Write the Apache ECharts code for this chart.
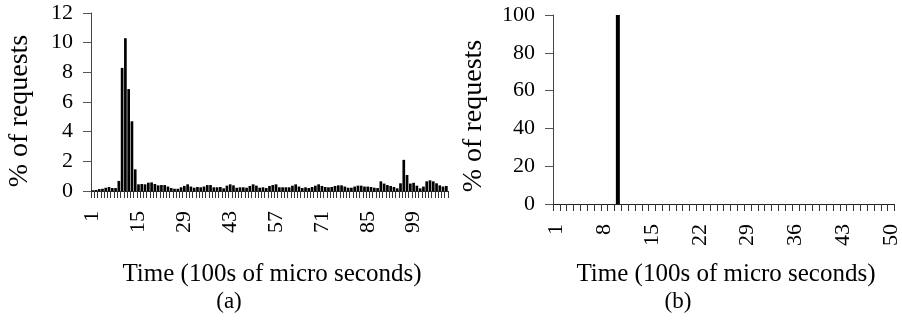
<!DOCTYPE html>
<html><head><meta charset="utf-8">
<script src="https://cdn.jsdelivr.net/npm/echarts@6/dist/echarts.min.js"></script>
<style>html,body{margin:0;padding:0;background:#fff}#c{width:902px;height:326px}</style>
</head><body><div id="c"></div>
<script>
const catsA = Array.from({length: 109}, (_, i) => String(i + 1));
const valuesA = [
  0.05,0.07,0.13,0.15,0.22,0.27,0.2,0.2,0.68,8.3,10.3,6.87,4.7,1.46,
  0.45,0.47,0.45,0.56,0.58,0.47,0.38,0.4,0.4,0.3,0.2,0.15,0.15,0.25,0.34,0.45,
  0.3,0.22,0.27,0.25,0.3,0.4,0.4,0.25,0.25,0.27,0.18,0.36,0.45,0.38,0.22,0.25,
  0.25,0.22,0.34,0.45,0.36,0.22,0.25,0.2,0.34,0.4,0.45,0.25,0.25,0.25,0.25,0.36,
  0.45,0.3,0.2,0.25,0.2,0.27,0.36,0.45,0.34,0.27,0.25,0.27,0.34,0.38,0.38,0.3,
  0.22,0.22,0.3,0.36,0.36,0.3,0.3,0.27,
  0.22,0.2,0.65,0.5,0.4,0.34,0.27,0.18,0.52,2.1,1.08,0.5,0.55,0.36,0.18,0.3,
  0.65,0.72,0.65,0.52,0.38,0.3,0.34
];
const catsB = Array.from({length: 50}, (_, i) => String(i + 1));
const valuesB = catsB.map(c => c === '10' ? 100 : 0);
const yTicksA = {min: 0, max: 12, interval: 2};
const yTicksB = {min: 0, max: 100, interval: 20};
const xTitle = 'Time (100s of micro seconds)';
const yTitle = '% of requests';

const FONT = 'Liberation Serif';
const chart = echarts.init(document.getElementById('c'));
function xAxis(idx, cats, labelInt) {
  return {
    type: 'category', gridIndex: idx, data: cats, boundaryGap: true,
    axisLine: {show: true, lineStyle: {color: '#222', width: 1}},
    axisTick: {show: true, interval: 0, length: 7, lineStyle: {color: '#333', width: 1}},
    axisLabel: {show: true, interval: labelInt, rotate: 90, margin: 20, color: '#000', fontFamily: FONT, fontSize: 22}
  };
}
function yAxis(idx, t) {
  return {
    type: 'value', gridIndex: idx, min: t.min, max: t.max, interval: t.interval,
    splitLine: {show: false},
    axisLine: {show: true, lineStyle: {color: '#444'}},
    axisTick: {show: true, length: 8, lineStyle: {color: '#555'}},
    axisLabel: {margin: 18, color: '#000', fontFamily: FONT, fontSize: 22}
  };
}
chart.setOption({
  animation: false,
  grid: [
    {left: 91, right: 454, top: 13, bottom: 135},
    {left: 553, right: 7, top: 15, bottom: 122}
  ],
  xAxis: [xAxis(0, catsA, 13), xAxis(1, catsB, 6)],
  yAxis: [yAxis(0, yTicksA), yAxis(1, yTicksB)],
  series: [
    {type: 'bar', xAxisIndex: 0, yAxisIndex: 0, data: valuesA, barCategoryGap: '18%', itemStyle: {color: '#000'}},
    {type: 'bar', xAxisIndex: 1, yAxisIndex: 1, data: valuesB, barWidth: 4, itemStyle: {color: '#000'}}
  ],
  graphic: [
    {type: 'text', x: 20, y: 111, rotation: Math.PI / 2, style: {text: yTitle, fontFamily: FONT, fontSize: 28, fill: '#000', textAlign: 'center', textVerticalAlign: 'middle'}},
    {type: 'text', x: 474, y: 116, rotation: Math.PI / 2, style: {text: yTitle, fontFamily: FONT, fontSize: 28, fill: '#000', textAlign: 'center', textVerticalAlign: 'middle'}},
    {type: 'text', x: 272, y: 274, style: {text: xTitle, fontFamily: FONT, fontSize: 25, fill: '#000', textAlign: 'center', textVerticalAlign: 'middle'}},
    {type: 'text', x: 726, y: 274, style: {text: xTitle, fontFamily: FONT, fontSize: 25, fill: '#000', textAlign: 'center', textVerticalAlign: 'middle'}},
    {type: 'text', x: 229, y: 302, style: {text: '(a)', fontFamily: FONT, fontSize: 23, fill: '#000', textAlign: 'center', textVerticalAlign: 'middle'}},
    {type: 'text', x: 678, y: 302, style: {text: '(b)', fontFamily: FONT, fontSize: 23, fill: '#000', textAlign: 'center', textVerticalAlign: 'middle'}}
  ]
});
</script></body></html>
